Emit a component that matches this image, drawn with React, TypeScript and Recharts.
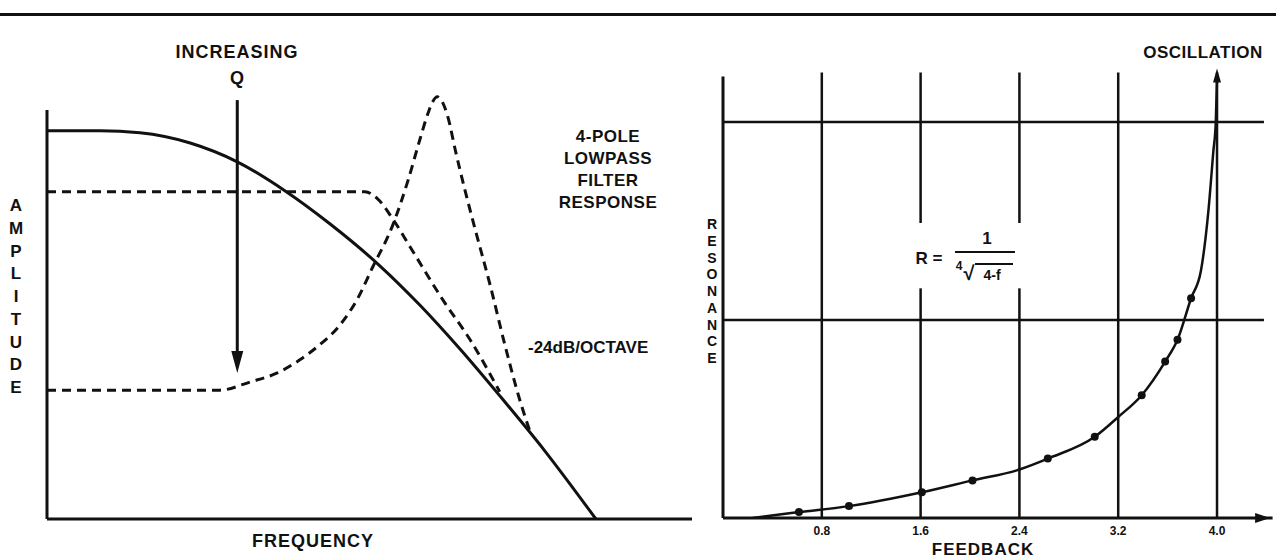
import { ComposedChart, Line, Scatter, XAxis, YAxis, ReferenceLine, ReferenceDot } from "recharts";

// ---- left panel: 4-pole lowpass response (chart units, x = frequency, y = amplitude)
const solidFreq = [0, 0.82, 1.44, 2.22, 2.95, 3.71, 4.39, 5.16, 5.78, 6.4, 7.02, 7.72, 8.51];
const solidAmp = [9.49, 9.49, 9.44, 9.19, 8.73, 8.0, 7.21, 6.19, 5.23, 4.16, 3.01, 1.66, 0];

const lowQFreq = [0, 4.93, 5.13, 5.35, 5.63, 6.14, 6.56, 7.02];
const lowQAmp = [8.0, 8.0, 7.82, 7.36, 6.65, 5.35, 4.38, 3.11];

const highQFreq = [0, 2.68, 3.15, 3.57, 3.92, 4.19, 4.54, 4.82, 5.05, 5.35, 5.6, 5.78, 5.91, 5.98, 6.05, 6.12, 6.22, 6.33, 6.48, 6.64, 6.87, 7.1, 7.33, 7.49];
const highQAmp = [3.15, 3.15, 3.35, 3.57, 3.89, 4.21, 4.74, 5.4, 6.16, 7.14, 8.29, 9.27, 9.93, 10.2, 10.32, 10.22, 9.8, 9.02, 8.04, 7.07, 5.72, 4.25, 2.91, 2.13];

// ---- right panel: resonance vs feedback
const curveFeedback = [0.24, 0.615, 1.02, 1.61, 2.02, 2.4, 2.63, 3.01, 3.2, 3.39, 3.58, 3.68, 3.79, 3.87, 3.93, 3.97, 3.99, 4.0];
const curveResonance = [0, 0.03, 0.06, 0.13, 0.19, 0.245, 0.3, 0.41, 0.51, 0.62, 0.79, 0.9, 1.11, 1.25, 1.55, 1.85, 2.0, 2.22];

const dotFeedback = [0.615, 1.02, 1.61, 2.02, 2.63, 3.01, 3.39, 3.58, 3.68, 3.79];
const dotResonance = [0.03, 0.06, 0.13, 0.19, 0.3, 0.41, 0.62, 0.79, 0.9, 1.11];

const feedbackTicks = [0.8, 1.6, 2.4, 3.2, 4.0];
const resonanceLines = [1, 2];

const solidData = solidFreq.map((x, i) => ({ x, y: solidAmp[i] }));
const lowQData = lowQFreq.map((x, i) => ({ x, y: lowQAmp[i] }));
const highQData = highQFreq.map((x, i) => ({ x, y: highQAmp[i] }));
const curveData = curveFeedback.map((f, i) => ({ f, r: curveResonance[i] }));
const dotData = dotFeedback.map((f, i) => ({ f, r: dotResonance[i] }));

const INK = "#111";
const FONT = '"Liberation Sans", Arial, Helvetica, sans-serif';

const arrowDown = (p: any) => (
  <path d={`M${p.cx},${p.cy} L${p.cx - 6},${p.cy - 22} L${p.cx + 6},${p.cy - 22} Z`} fill={INK} />
);
const arrowUp = (p: any) => (
  <path d={`M${p.cx},${p.cy} L${p.cx - 4},${p.cy + 14} L${p.cx + 4},${p.cy + 14} Z`} fill={INK} />
);
const arrowRight = (p: any) => (
  <path d={`M${p.cx},${p.cy} L${p.cx - 15},${p.cy - 5} L${p.cx - 15},${p.cy + 5} Z`} fill={INK} />
);

const txt = (left: number, top: number, size: number, extra: any = {}) => ({
  position: "absolute" as const,
  left,
  top,
  fontSize: size,
  fontWeight: 700,
  lineHeight: 1,
  color: INK,
  whiteSpace: "nowrap" as const,
  ...extra,
});

const centered = (cx: number, cy: number, size: number, extra: any = {}) =>
  txt(cx, cy, size, { transform: "translate(-50%, -50%)", ...extra });

const FilterPanel = () => (
  <ComposedChart width={700} height={560} margin={{ top: 69, right: 8, bottom: 41, left: 47 }}>
    <XAxis type="number" dataKey="x" domain={[0, 10]} hide allowDataOverflow />
    <YAxis type="number" domain={[0, 11]} hide allowDataOverflow />
    <ReferenceLine segment={[{ x: 0, y: 0 }, { x: 0, y: 10 }]} stroke={INK} strokeWidth={3} />
    <ReferenceLine segment={[{ x: 0, y: 0 }, { x: 10, y: 0 }]} stroke={INK} strokeWidth={3} />
    <ReferenceLine segment={[{ x: 2.95, y: 10.24 }, { x: 2.95, y: 4.0 }]} stroke={INK} strokeWidth={3} />
    <ReferenceDot x={2.95} y={3.57} r={6} shape={arrowDown} />
    <Line data={highQData} dataKey="y" type="monotone" stroke={INK} strokeWidth={3} strokeDasharray="9 6" dot={false} isAnimationActive={false} />
    <Line data={lowQData} dataKey="y" type="monotone" stroke={INK} strokeWidth={3} strokeDasharray="9 6" dot={false} isAnimationActive={false} />
    <Line data={solidData} dataKey="y" type="monotone" stroke={INK} strokeWidth={3} dot={false} isAnimationActive={false} />
  </ComposedChart>
);

const ResonancePanel = () => (
  <ComposedChart width={576} height={560} margin={{ top: 62.6, right: 3.4, bottom: 12, left: 23 }}>
    <XAxis
      type="number"
      dataKey="f"
      domain={[0, 4.45]}
      ticks={feedbackTicks}
      tickFormatter={(v: number) => v.toFixed(1)}
      tickLine={false}
      axisLine={{ stroke: INK, strokeWidth: 3 }}
      tick={{ fill: INK, fontSize: 12, fontWeight: 700, fontFamily: FONT }}
      height={30}
      allowDataOverflow
    />
    <YAxis type="number" domain={[0, 2.3]} hide allowDataOverflow />
    <ReferenceLine segment={[{ x: 0, y: 0 }, { x: 0, y: 2.23 }]} stroke={INK} strokeWidth={3} />
    {feedbackTicks.map((t) =>
      t === 1.6 || t === 2.4 ? (
        [
          <ReferenceLine key={`${t}a`} segment={[{ x: t, y: 0 }, { x: t, y: 1.16 }]} stroke={INK} strokeWidth={2.5} />,
          <ReferenceLine key={`${t}b`} segment={[{ x: t, y: 1.49 }, { x: t, y: 2.25 }]} stroke={INK} strokeWidth={2.5} />,
        ]
      ) : (
        <ReferenceLine key={t} segment={[{ x: t, y: 0 }, { x: t, y: 2.25 }]} stroke={INK} strokeWidth={2.5} />
      )
    )}
    {resonanceLines.map((r) => (
      <ReferenceLine key={r} segment={[{ x: 0, y: r }, { x: 4.38, y: r }]} stroke={INK} strokeWidth={2.5} />
    ))}
    <ReferenceDot x={4.43} y={0} r={5} shape={arrowRight} />
    <ReferenceDot x={4.0} y={2.27} r={4} shape={arrowUp} />
    <Line data={curveData} dataKey="r" type="monotone" stroke={INK} strokeWidth={2.5} dot={false} isAnimationActive={false} />
    <Scatter data={dotData} dataKey="r" fill={INK} shape={(p: any) => <circle cx={p.cx} cy={p.cy} r={4} fill={INK} />} isAnimationActive={false} />
  </ComposedChart>
);

const amplitudeLetters = "AMPLITUDE".split("");
const resonanceLetters = "RESONANCE".split("");

export default function App() {
  return (
    <div style={{ position: "fixed", left: 0, top: 0, width: 1276, height: 560, background: "#fff", overflow: "hidden", fontFamily: FONT }}>
      <div style={{ position: "absolute", left: 0, top: 13, width: 1276, height: 3, background: INK }} />
      <div style={{ position: "absolute", left: 0, top: 0 }}>
        <FilterPanel />
      </div>
      <div style={{ position: "absolute", left: 700, top: 0 }}>
        <ResonancePanel />
      </div>

      {/* left panel labels */}
      <div style={centered(237, 52, 18, { letterSpacing: 1 })}>INCREASING</div>
      <div style={centered(237, 78, 18)}>Q</div>
      <div style={centered(608, 136, 17, { letterSpacing: 0.5 })}>4-POLE</div>
      <div style={centered(608, 158, 17, { letterSpacing: 0.5 })}>LOWPASS</div>
      <div style={centered(608, 180, 17, { letterSpacing: 0.5 })}>FILTER</div>
      <div style={centered(608, 202, 17, { letterSpacing: 0.5 })}>RESPONSE</div>
      <div style={txt(528, 339, 17)}>-24dB/OCTAVE</div>
      <div style={centered(313, 541, 18, { letterSpacing: 1 })}>FREQUENCY</div>
      {amplitudeLetters.map((c, i) => (
        <div key={i} style={centered(16, 205 + i * 22.75, 17)}>{c}</div>
      ))}

      {/* right panel labels */}
      <div style={centered(1203, 52, 17, { letterSpacing: 0.5 })}>OSCILLATION</div>
      <div style={centered(983, 549, 17, { letterSpacing: 1 })}>FEEDBACK</div>
      {resonanceLetters.map((c, i) => (
        <div key={i} style={centered(712, 224 + i * 16.75, 14)}>{c}</div>
      ))}

      {/* formula R = 1 / (4th root of 4-f) */}
      <div style={centered(929, 258, 17)}>R =</div>
      <div style={centered(987, 238, 17)}>1</div>
      <div style={{ position: "absolute", left: 955, top: 251, width: 60, height: 2, background: INK }} />
      <div style={centered(959, 266, 12)}>4</div>
      <div style={centered(969, 273, 20)}>√</div>
      <div style={{ position: "absolute", left: 975, top: 263, width: 38, height: 2, background: INK }} />
      <div style={centered(992, 275, 14)}>4-f</div>
    </div>
  );
}
